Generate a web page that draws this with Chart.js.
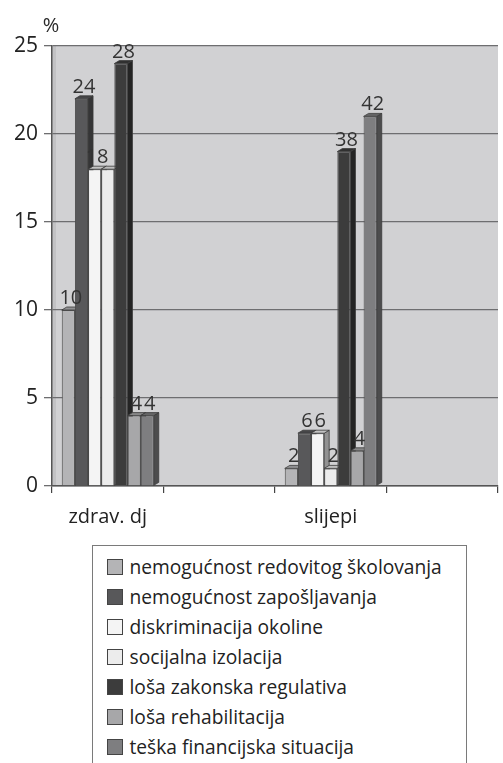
<!DOCTYPE html>
<html>
<head>
<meta charset="utf-8">
<script src="https://cdn.jsdelivr.net/npm/chart.js@4.4.0/dist/chart.umd.min.js"></script>
<style>
  body { margin: 0; background: #fff; font-family: 'Open Sans', sans-serif; }
  #wrap { position: relative; width: 503px; height: 763px; overflow: hidden; }
  #chart { position: absolute; left: 0; top: 0; }
  #legend { position: absolute; left: 92px; top: 545px; width: 375px; height: 240px;
            border: 1.5px solid #7a7a7a; box-sizing: border-box; }
  .item { position: absolute; left: 13.5px; height: 30px; display: flex; align-items: center;
          font-size: 19.2px; color: #222; white-space: nowrap; }
  .sw { width: 14px; height: 14px; border: 1px solid #444; margin-right: 7px; }
</style>
</head>
<body>
<div id="wrap">
  <canvas id="chart" width="503" height="540"></canvas>
  <div id="legend"></div>
</div>
<script>
// categories (2nd and 4th slot are empty in the original)
const categories = ['zdrav. dj', '', 'slijepi', ''];
const seriesNames = [
    'nemogućnost redovitog školovanja',
    'nemogućnost zapošljavanja',
    'diskriminacija okoline',
    'socijalna izolacija',
    'loša zakonska regulativa',
    'loša rehabilitacija',
    'teška financijska situacija'
];

// bar heights (%)
const redovitoSkolovanje = [10, null, 1, null];
const zaposljavanje      = [22, null, 3, null];
const diskriminacija     = [18, null, 3, null];
const izolacija          = [18, null, 1, null];
const regulativa         = [24, null, 19, null];
const rehabilitacija     = [4, null, 2, null];
const financije          = [4, null, 21, null];

// numbers printed above bars
const lblRedovito      = [10, null, 2, null];
const lblZaposljavanje = [24, null, 6, null];
const lblDiskrim       = [18, null, 6, null];
const lblIzolacija     = [null, null, 2, null];
const lblRegulativa    = [28, null, 38, null];
const lblRehab         = [4, null, 4, null];
const lblFinancije     = [4, null, 42, null];

const yTicks = [0, 5, 10, 15, 20, 25];

const seriesValues = [redovitoSkolovanje, zaposljavanje, diskriminacija, izolacija, regulativa, rehabilitacija, financije];
const seriesLabels = [lblRedovito, lblZaposljavanje, lblDiskrim, lblIzolacija, lblRegulativa, lblRehab, lblFinancije];
const faceColors = ['#b4b4b6', '#58585a', '#f4f4f4', '#ececec', '#3c3c3c', '#a7a7a9', '#7e7e80'];

const DX = 5, DY = 3; // fake 3D depth

function shade(hex, f) {
    const n = parseInt(hex.slice(1), 16);
    const r = Math.round(((n >> 16) & 255) * f);
    const g = Math.round(((n >> 8) & 255) * f);
    const b = Math.round((n & 255) * f);
    return 'rgb(' + r + ',' + g + ',' + b + ')';
}

// Plot background, 3D faces and value labels
const bar3d = {
    id: 'bar3d',
    beforeDraw(chart) {
        const { ctx, chartArea: a } = chart;
        ctx.save();
        ctx.fillStyle = '#d1d1d3';
        ctx.fillRect(a.left, a.top, a.right - a.left, a.bottom - a.top);
        // lighter left wall strip
        ctx.fillStyle = '#c2c2c4';
        ctx.fillRect(a.left, a.top, 4, a.bottom - a.top);
        // "%" above the y axis
        ctx.fillStyle = '#2a2a2a';
        ctx.font = '20px "Open Sans"';
        ctx.textAlign = 'center';
        ctx.textBaseline = 'alphabetic';
        ctx.fillText('%', 51, 32);
        ctx.restore();
    },
    beforeDatasetsDraw(chart) {
        const ctx = chart.ctx;
        ctx.save();
        ctx.lineWidth = 0.8;
        ctx.strokeStyle = '#3a3a3a';
        chart.data.datasets.forEach((ds, di) => {
            const meta = chart.getDatasetMeta(di);
            meta.data.forEach((bar, i) => {
                if (ds.data[i] == null) return;
                const { x, y, base, width } = bar.getProps(['x', 'y', 'base', 'width'], true);
                const l = x - width / 2, r = x + width / 2;
                ctx.fillStyle = shade(faceColors[di], 0.6);
                ctx.beginPath();
                ctx.moveTo(r, y); ctx.lineTo(r + DX, y - DY);
                ctx.lineTo(r + DX, base - DY); ctx.lineTo(r, base);
                ctx.closePath(); ctx.fill(); ctx.stroke();
                ctx.fillStyle = shade(faceColors[di], 0.8);
                ctx.beginPath();
                ctx.moveTo(l, y); ctx.lineTo(l + DX, y - DY);
                ctx.lineTo(r + DX, y - DY); ctx.lineTo(r, y);
                ctx.closePath(); ctx.fill(); ctx.stroke();
            });
        });
        ctx.restore();
    },
    afterDatasetsDraw(chart) {
        const ctx = chart.ctx;
        ctx.save();
        ctx.fillStyle = '#333';
        ctx.font = '20px "Open Sans"';
        ctx.textAlign = 'center';
        ctx.textBaseline = 'alphabetic';
        chart.data.datasets.forEach((ds, di) => {
            const meta = chart.getDatasetMeta(di);
            meta.data.forEach((bar, i) => {
                const txt = seriesLabels[di][i];
                if (txt == null || ds.data[i] == null) return;
                ctx.fillText(String(txt), bar.x + DX / 2, bar.y - DY - 3);
            });
        });
        ctx.restore();
    }
};

const datasets = seriesNames.map((name, i) => ({
    label: name,
    data: seriesValues[i],
    backgroundColor: faceColors[i],
    borderColor: '#4a4a4a',
    borderWidth: 1,
    categoryPercentage: 0.825,
    barPercentage: 1.0
}));

new Chart(document.getElementById('chart').getContext('2d'), {
    type: 'bar',
    data: { labels: categories, datasets: datasets },
    options: {
        responsive: false,
        animation: false,
        layout: { padding: { top: 46, right: 5, left: 0, bottom: 0 } },
        plugins: { legend: { display: false }, tooltip: { enabled: false } },
        scales: {
            x: {
                afterFit(scale) { scale.height = 54; },
                grid: { drawOnChartArea: false, drawTicks: true, tickLength: 7, color: '#444', lineWidth: 1.2 },
                border: { color: '#555', width: 1.5 },
                ticks: { color: '#222', font: { family: 'Open Sans', size: 20 }, padding: 12, maxRotation: 0, autoSkip: false }
            },
            y: {
                min: 0,
                max: 25,
                afterFit(scale) { scale.width = 52; },
                afterBuildTicks(scale) { scale.ticks = yTicks.map(v => ({ value: v })); },
                grid: { color: '#6e6e70', lineWidth: 1.3, tickLength: 8 },
                border: { color: '#555', width: 1.5 },
                ticks: { color: '#222', font: { family: 'Open Sans', size: 21 }, padding: 6 }
            }
        }
    },
    plugins: [bar3d]
});

// HTML legend
const legend = document.getElementById('legend');
seriesNames.forEach((name, i) => {
    const row = document.createElement('div');
    row.className = 'item';
    row.style.top = (5.5 + 30 * i) + 'px';
    const sw = document.createElement('span');
    sw.className = 'sw';
    sw.style.background = faceColors[i];
    row.appendChild(sw);
    row.appendChild(document.createTextNode(name));
    legend.appendChild(row);
});
</script>
</body>
</html>
